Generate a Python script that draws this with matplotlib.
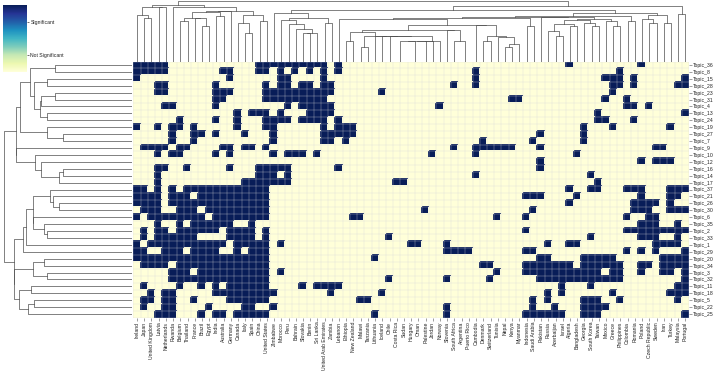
import numpy as np
import matplotlib
matplotlib.use("Agg")
import matplotlib.pyplot as plt
from matplotlib.colors import Normalize
from matplotlib.colorbar import ColorbarBase

countries = ["Ireland", "Japan", "United Kingdom", "Latvia", "Netherlands", "Rwanda", "Belgium",
             "Thailand", "France", "Brazil", "Egypt", "India", "Australia", "Germany", "Canada",
             "Italy", "Spain", "China", "United States", "Zimbabwe", "Morocco", "Peru", "Bahrain",
             "Slovakia", "Benin", "Sri Lanka", "United Arab Emirates", "Zambia", "Lebanon",
             "Ethiopia", "New Zealand", "Malawi", "Tanzania", "Lithuania", "Iceland", "Chile",
             "Costa Rica", "Sudan", "Hungary", "Oman", "Palestine", "Jordan", "Norway", "Slovenia",
             "South Africa", "Argentina", "Puerto Rico", "Cambodia", "Denmark", "Switzerland",
             "Tunisia", "Nepal", "Kenya", "Myanmar", "Indonesia", "Saudi Arabia", "Pakistan",
             "Russia", "Azerbaijan", "Israel", "Algeria", "Bangladesh", "Georgia", "South Korea",
             "Taiwan", "Mexico", "Greece", "Philippines", "Colombia", "Romania", "Poland",
             "Czech Republic", "Sweden", "Iran", "Turkey", "Malaysia", "Portugal"]

topics = ["Topic_36", "Topic_8", "Topic_15", "Topic_28", "Topic_23", "Topic_31", "Topic_4",
          "Topic_13", "Topic_24", "Topic_19", "Topic_27", "Topic_7", "Topic_9", "Topic_10",
          "Topic_12", "Topic_16", "Topic_14", "Topic_17", "Topic_37", "Topic_21", "Topic_26",
          "Topic_30", "Topic_6", "Topic_35", "Topic_2", "Topic_33", "Topic_1", "Topic_29",
          "Topic_20", "Topic_34", "Topic_3", "Topic_32", "Topic_11", "Topic_18", "Topic_5",
          "Topic_22", "Topic_25"]

# significant countries per topic (indices into `countries`, ranges inclusive)
significant = [
    "0-4,17-26,28,60,70",
    "0-4,12-13,17-18,20,22,24,26,28,47,67",
    "0,13,20-21,26,47,65-67,69,76",
    "3-4,11,18,20-21,23-24,26-27,44,47,66-67,69,75-76",
    "3-4,11-13,18-27,34,66",
    "11-12,18-26,52-53,65,68",
    "4-5,11,21,23-27,42,68-69,71",
    "14,16-18,20,24-27,64,76",
    "6,11,14,18-21,23-26,28,64-65,69",
    "0,3,5-6,8,14,18-19,26,28-30,62,66,74",
    "5,8-9,11,15,19,26-30,56,62",
    "5,8,19,26-27,29,48,55,62",
    "1-4,6-7,12-13,15-16,18,44,47-52,56,72-73",
    "3,5-6,11,13,19,21-23,25,41,47,61",
    "56,70,72-74",
    "3-4,7,13,17-21,28,56",
    "3,17-19,21,47,63",
    "3,15-21,36-37,64",
    "0-1,3,5,7-18,60,63-64,68-70,74-76",
    "0-3,5-7,9-18,54-56,61,70,74-75",
    "0-3,5-18,60,69-72,74",
    "1-3,6-8,10-18,40,55,69-71,74-76",
    "0,2-9,11-18,30-31,50,54,68,71-72",
    "3,6,8-13,16,70-72,75",
    "1,3-4,6-11,13-16,18,54,68-76",
    "1,3-8,13-16,18,35,63,70-72,75",
    "0,2-12,14-18,20,38-39,43,57,60-61,72-75",
    "0-1,4-6,8-11,14,16-18,43-46,54-55,68,70,72,76",
    "0-18,33,56-57,62-66,73-76",
    "1-4,6-18,48-49,54-60,62-67,70-71,73-76",
    "5-7,9-18,20,50,54-64,66-67,70,73-74,76",
    "5-18,35,43,49,56-67,76",
    "1,6,9,11,13-18,23,25-28,59,63,75-76",
    "2,4-5,11-19,27,34,57,59,66,74-76",
    "1-2,4-5,8,13-18,31-32,55,57,62-64,67,75",
    "1,4-5,10,15-16,19,43,55,58,62-65",
    "3-5,9,11-12,14-18,33,43,54-59,62-64,76",
]

cbar_labels = ["Not Significant", "Significant"]


def parse(spec):
    out = []
    for part in spec.split(","):
        if "-" in part:
            a, b = part.split("-")
            out.extend(range(int(a), int(b) + 1))
        else:
            out.append(int(part))
    return out


M = np.zeros((len(topics), len(countries)))
for r, spec in enumerate(significant):
    M[r, parse(spec)] = 1


def adjacent_linkage(X):
    n = len(X)
    D = np.sqrt(((X[:, None, :] - X[None, :, :]) ** 2).sum(-1))
    clusters = [dict(members=[i], pos=i + 0.5, h=0.0) for i in range(n)]
    segs = []
    while len(clusters) > 1:
        dists = [D[np.ix_(a["members"], b["members"])].mean()
                 for a, b in zip(clusters[:-1], clusters[1:])]
        k = int(np.argmin(dists))
        a, b = clusters[k], clusters[k + 1]
        h = max(dists[k], a["h"], b["h"])
        segs.append(([a["pos"], a["pos"], b["pos"], b["pos"]], [a["h"], h, h, b["h"]]))
        clusters[k:k + 2] = [dict(members=a["members"] + b["members"],
                                  pos=(a["pos"] + b["pos"]) / 2, h=h)]
    return segs, clusters[0]["h"]


plt.rcParams["font.family"] = ["Liberation Sans", "DejaVu Sans"]
W, H = 719, 372
fig = plt.figure(figsize=(W / 100, H / 100), dpi=100)

hx0, hx1, hy0, hy1 = 133.4, 689.0, 61.5, 317.5
ax = fig.add_axes([hx0 / W, 1 - hy1 / H, (hx1 - hx0) / W, (hy1 - hy0) / H])
cmap = plt.get_cmap("YlGnBu")
ax.pcolormesh(M, cmap=cmap, vmin=0, vmax=1, edgecolors="face", linewidth=0.2)
ax.set_xlim(0, len(countries))
ax.set_ylim(len(topics), 0)
ax.set_xticks(np.arange(len(countries)) + 0.5)
ax.set_xticklabels(countries, rotation=90, fontsize=3.7)
ax.set_xticks(np.arange(len(countries) + 1), minor=True)
ax.yaxis.tick_right()
ax.set_yticks(np.arange(len(topics)) + 0.5)
ax.set_yticklabels(topics, fontsize=3.7)
ax.set_yticks(np.arange(len(topics) + 1), minor=True)
ax.grid(which="minor", color="#d9d9d9", lw=0.3, alpha=0.8)
ax.tick_params(which="minor", length=0)
ax.tick_params(which="major", length=2, width=0.4, pad=1, color="#555555", labelcolor="#222222")
for s in ax.spines.values():
    s.set_visible(False)

# column dendrogram
axc = fig.add_axes([hx0 / W, 1 - hy0 / H, (hx1 - hx0) / W, (hy0 - 0.5) / H])
segs, hmax = adjacent_linkage(M.T)
for xs, ys in segs:
    axc.plot(xs, ys, color="0.3", lw=0.5)
axc.set_xlim(0, len(countries))
axc.set_ylim(0, hmax * 1.005)
axc.axis("off")

# row dendrogram
axr = fig.add_axes([1.0 / W, 1 - hy1 / H, (hx0 - 2.0) / W, (hy1 - hy0) / H])
segs, hmax = adjacent_linkage(M)
for ys, xs in segs:
    axr.plot(xs, ys, color="0.3", lw=0.5)
axr.set_ylim(len(topics), 0)
axr.set_xlim(hmax * 1.02, 0)
axr.axis("off")

# colorbar
axcb = fig.add_axes([3 / W, 1 - 72 / H, 24 / W, 67 / H])
cb = ColorbarBase(axcb, cmap=cmap, norm=Normalize(0, 1))
cb.set_ticks([0.25, 0.75])
cb.set_ticklabels(cbar_labels)
cb.outline.set_visible(False)
axcb.tick_params(labelsize=3.7, length=1.5, width=0.4, pad=1, labelcolor="#222222")

fig.savefig("out.png", dpi=100)
